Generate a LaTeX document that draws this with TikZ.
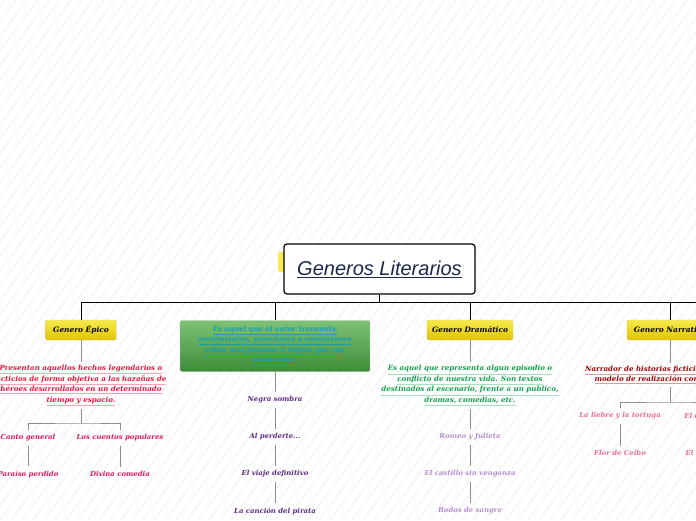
\documentclass[tikz,border=0pt]{standalone}
\usepackage{fontspec}
\setmainfont{DejaVu Serif}
\newfontfamily\titlefont{Liberation Sans}
\usepackage{xcolor}
\usetikzlibrary{positioning,calc}

\definecolor{navy}{HTML}{1B2A4A}
\definecolor{epicred}{HTML}{E8173A}
\definecolor{epicline}{HTML}{F5A3B3}
\definecolor{epicpink}{HTML}{E2185B}
\definecolor{lirteal}{HTML}{159FB3}
\definecolor{lirpurple}{HTML}{5E2B82}
\definecolor{dramgreen}{HTML}{12A04E}
\definecolor{dramline}{HTML}{A3E2BC}
\definecolor{dramlilac}{HTML}{B48FD0}
\definecolor{narrred}{HTML}{A30000}
\definecolor{narrline}{HTML}{D9A0A0}
\definecolor{narrpink}{HTML}{F06B9C}
\definecolor{topyellow}{HTML}{F7EA4C}
\definecolor{botyellow}{HTML}{E2C400}

% underline in its own colour, text keeps the current colour
\newcommand{\ulc}[2]{\leavevmode\rlap{\color{#1}\underline{\phantom{#2}}}#2}

\begin{document}
\begin{tikzpicture}[x=1pt, y=-1pt,
  stripe/.style={black!6, line width=0.6pt},
  rootbox/.style={draw, line width=1.2pt, rounded corners=3pt, fill=white,
                  minimum width=191pt, minimum height=50pt},
  tab/.style={fill=topyellow, rounded corners=2pt, minimum width=14pt,
              minimum height=20pt, inner sep=0pt},
  topic/.style={draw=botyellow!80!black!60, rounded corners=2pt,
                top color=topyellow, bottom color=botyellow,
                minimum width=71pt, minimum height=20pt, inner sep=1pt,
                font=\bfseries\itshape\fontsize{7.4}{8}\selectfont},
  greenbox/.style={draw=green!40!black!40, rounded corners=2pt,
                   top color={rgb,255:red,126;green,194;blue,118},
                   bottom color={rgb,255:red,62;green,140;blue,56},
                   minimum width=190pt, minimum height=51pt, align=center,
                   text=lirteal, inner sep=1pt,
                   font=\bfseries\itshape\fontsize{7}{10.3}\selectfont},
  note/.style={align=center, inner sep=3pt,
               font=\bfseries\itshape\fontsize{7.1}{10.5}\selectfont},
  leaf/.style={inner sep=4pt, font=\bfseries\itshape\fontsize{6.9}{8}\selectfont},
  bus/.style={line width=1pt, black},
  link/.style={line width=0.8pt, black!45},
]
\useasboundingbox (0,0) rectangle (696,520);
\clip (0,0) rectangle (696,520);

% ================= background =================
\fill[white] (0,0) rectangle (696,520);
\foreach \k in {-36,...,64}
  \draw[stripe] (\k*11,520) -- ++(390,-520);

% ================= root =================
\node[tab] (tab) at (285,262) {};
\node[rootbox] (root) at (379.5,269)
  {\titlefont\itshape\fontsize{20}{21}\selectfont\color{navy}\underline{Generos Literarios}};

% ================= main topics =================
\node[topic] (epico) at (81,330) {Genero Épico};
\node[greenbox] (lirico) at (275,346)
  {\ulc{lirteal}{Es aquel que el autor transmite}\\
   \ulc{lirteal}{sentimientos, emociones o sensaciones}\\
   \ulc{lirteal}{sobre una persona u objeto que sea}\\
   \ulc{lirteal}{inspirador.}};
\node[topic, minimum width=86pt] (dramatico) at (470,330) {Genero Dramático};
\node[topic, minimum width=86pt] (narrativo) at (670,330) {Genero Narrativo};

\coordinate (busL) at (81,302);
\coordinate (busR) at (696,302);
\draw[bus] (busL) -- (busR);
\draw[bus] (root) -- (root |- busL);
\foreach \t in {epico,lirico,dramatico,narrativo}
  \draw[bus] (\t |- busL) -- (\t);

% ================= Genero Epico =================
\node[note, text=epicred] (epicodef) at (81,385.5)
  {\ulc{epicline}{Presentan aquellos hechos legendarios o}\\
   \ulc{epicline}{ficticios de forma objetiva a las hazañas de}\\
   \ulc{epicline}{héroes desarrollados en un determinado}\\
   \ulc{epicline}{tiempo y espacio.}};
\draw[link] (epico) -- (epicodef);

\coordinate (epicoj) at (81,423);
\node[leaf, text=epicpink] (canto)   at (28,438)  {Canto general};
\node[leaf, text=epicpink] (cuentos) at (120,438) {Los cuentos populares};
\node[leaf, text=epicpink] (paraiso) at (28,474)  {Paraíso perdido};
\node[leaf, text=epicpink] (divina)  at (120,474) {Divina comedia};
\draw[link] (epicodef) -- (epicoj);
\draw[link] (canto) |- (epicoj) -| (cuentos);
\draw[link] (canto) -- (paraiso);
\draw[link] (cuentos) -- (divina);

% ================= Genero Lirico =================
\node[leaf, text=lirpurple] (negra)  at (275,400) {Negra sombra};
\node[leaf, text=lirpurple] (perder) at (275,437) {Al perderte...};
\node[leaf, text=lirpurple] (viaje)  at (275,474) {El viaje definitivo};
\node[leaf, text=lirpurple] (pirata) at (275,511) {La canción del pirata};
\foreach \a/\b in {lirico/negra, negra/perder, perder/viaje, viaje/pirata}
  \draw[link] (\a) -- (\b);

% ================= Genero Dramatico =================
\node[note, text=dramgreen] (dramdef) at (470,385.5)
  {\ulc{dramline}{Es aquel que representa algun episodio o}\\
   \ulc{dramline}{conflicto de nuestra vida. Son textos}\\
   \ulc{dramline}{destinados al escenario, frente a un publico,}\\
   \ulc{dramline}{dramas, comedias, etc.}};
\node[leaf, text=dramlilac] (romeo)    at (470,437) {Romeo y Julieta};
\node[leaf, text=dramlilac] (castillo) at (470,474) {El castillo sin venganza};
\node[leaf, text=dramlilac] (bodas)    at (470,511) {Bodas de sangre};
\foreach \a/\b in {dramatico/dramdef, dramdef/romeo, romeo/castillo, castillo/bodas}
  \draw[link] (\a) -- (\b);

% ================= Genero Narrativo =================
\node[note, text=narrred] (narrdef) at (670,375)
  {\ulc{narrline}{Narrador de historias ficticias o reales con}\\
   \ulc{narrline}{modelo de realización con estructura.}};
\draw[link] (narrativo) -- (narrdef);

\coordinate (narrj) at (670,402);
\node[leaf, text=narrpink] (liebre) at (620,416) {La liebre y la tortuga};
\node[leaf, text=narrpink] (conde)  at (718,416) {El conde Lucanor};
\node[leaf, text=narrpink] (ceibo)  at (620,453) {Flor de Ceibo};
\node[leaf, text=narrpink] (cantar) at (718,453) {El cantar del Cid};
\draw[link] (narrdef) -- (narrj);
\draw[link] (liebre) |- (narrj) -| (conde);
\draw[link] (liebre) -- (ceibo);
\draw[link] (conde) -- (cantar);

\end{tikzpicture}
\end{document}
